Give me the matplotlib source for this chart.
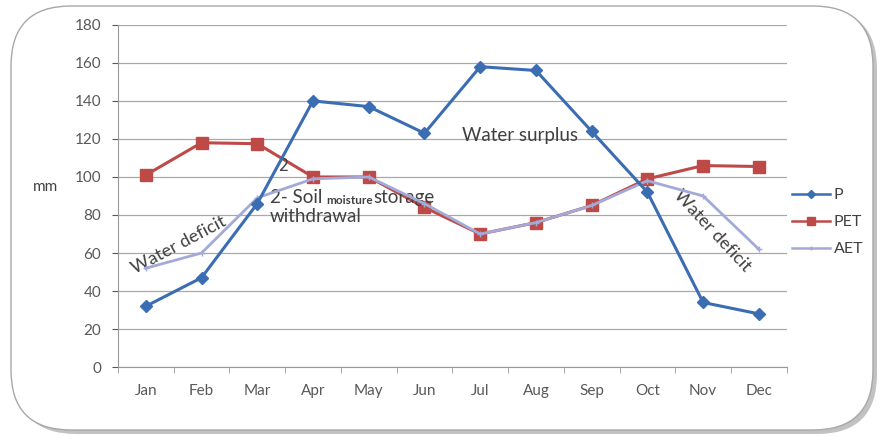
import matplotlib.pyplot as plt
from matplotlib.patches import FancyBboxPatch
from matplotlib.transforms import IdentityTransform

plt.rcParams['font.family'] = ['Lato', 'DejaVu Sans']

months = ['Jan', 'Feb', 'Mar', 'Apr', 'May', 'Jun', 'Jul', 'Aug', 'Sep', 'Oct', 'Nov', 'Dec']
p_vals = [32, 47, 86, 140, 137, 123, 158, 156, 124, 92, 34, 28]
pet_vals = [101, 118, 117.5, 100, 100, 84, 70, 76, 85, 99, 106, 105.5]
aet_vals = [52, 60, 89, 99, 100, 86, 70, 76, 85, 98, 90, 62]
y_ticks = [0, 20, 40, 60, 80, 100, 120, 140, 160, 180]

fig = plt.figure(figsize=(8.8, 4.36), dpi=100)

# rounded frame with a soft shadow
shadow = FancyBboxPatch((16, 2), 861, 425, boxstyle='round,pad=0,rounding_size=60',
                        transform=IdentityTransform(), facecolor='#9a9a9a', edgecolor='none',
                        alpha=0.6, zorder=-2)
frame = FancyBboxPatch((11, 6), 862, 424, boxstyle='round,pad=0,rounding_size=60',
                       transform=IdentityTransform(), facecolor='white', edgecolor='#a8a8a8',
                       linewidth=1.0, zorder=-1)
fig.patches.extend([shadow, frame])

ax = fig.add_axes([0.134, 0.158, 0.76, 0.785])
ax.patch.set_alpha(0)
x = list(range(len(months)))

ax.plot(x, p_vals, color='#3b6db3', lw=2.2, marker='D', ms=6, label='P', zorder=5)
ax.plot(x, pet_vals, color='#be4a48', lw=2.2, marker='s', ms=8, label='PET', zorder=3)
ax.plot(x, aet_vals, color='#a3aad8', lw=2.0, marker='+', ms=4, label='AET', zorder=4)

ax.set_xlim(-0.5, 11.5)
ax.set_ylim(0, 180)
ax.set_yticks(y_ticks)
ax.set_xticks(x)
ax.set_xticklabels(months)
ax.grid(axis='y', color='#a9a9a9', lw=0.9)
ax.set_axisbelow(True)
for s in ['top', 'right']:
    ax.spines[s].set_visible(False)
ax.spines['left'].set_color('#9a9a9a')
ax.spines['bottom'].set_color('#9a9a9a')
ax.tick_params(axis='y', colors='#595959', labelsize=11, length=4, direction='out', pad=8)
ax.tick_params(axis='x', colors='#595959', labelsize=11, length=0, pad=12)
# category boundary ticks on x axis
ax.set_xticks([i - 0.5 for i in range(13)], minor=True)
ax.tick_params(axis='x', which='minor', length=4, color='#9a9a9a')

ax.text(-0.109, 0.526, 'mm', transform=ax.transAxes, ha='center', va='center',
        fontsize=11, color='#404040')

txt_col = '#404040'
ax.text(2.46, 106, '2', fontsize=12, color=txt_col, ha='center', va='center')
t1 = ax.text(2.22, 86.5, '2- Soil ', fontsize=13.5, color=txt_col, ha='left', va='baseline')
t2 = ax.annotate('moisture', xy=(1, 0), xycoords=t1, fontsize=8.5, color=txt_col,
                 ha='left', va='bottom', fontweight='bold')
ax.annotate('storage', xy=(1, 0), xycoords=t2, fontsize=13.5, color=txt_col,
            ha='left', va='bottom')
ax.text(2.22, 76.5, 'withdrawal', fontsize=13.5, color=txt_col, ha='left', va='baseline')
ax.text(6.71, 122, 'Water surplus', fontsize=13.5, color=txt_col, ha='center', va='center')
ax.text(0.6, 64, 'Water deficit', fontsize=13, color=txt_col, ha='center', va='center',
        rotation=28, rotation_mode='anchor')
ax.text(10.17, 71.5, 'Water deficit', fontsize=13, color=txt_col, ha='center', va='center',
        rotation=-47, rotation_mode='anchor')

leg = fig.legend(loc='center left', bbox_to_anchor=(0.900, 0.49), frameon=False,
                 fontsize=11.5, handlelength=2.4, labelspacing=0.8, handletextpad=0.2,
                 borderaxespad=0, borderpad=0, markerscale=0.7)
for t in leg.get_texts():
    t.set_color('#404040')
for h in leg.legend_handles:
    h.set_linewidth(1.8)

fig.savefig('out.png', dpi=100)
